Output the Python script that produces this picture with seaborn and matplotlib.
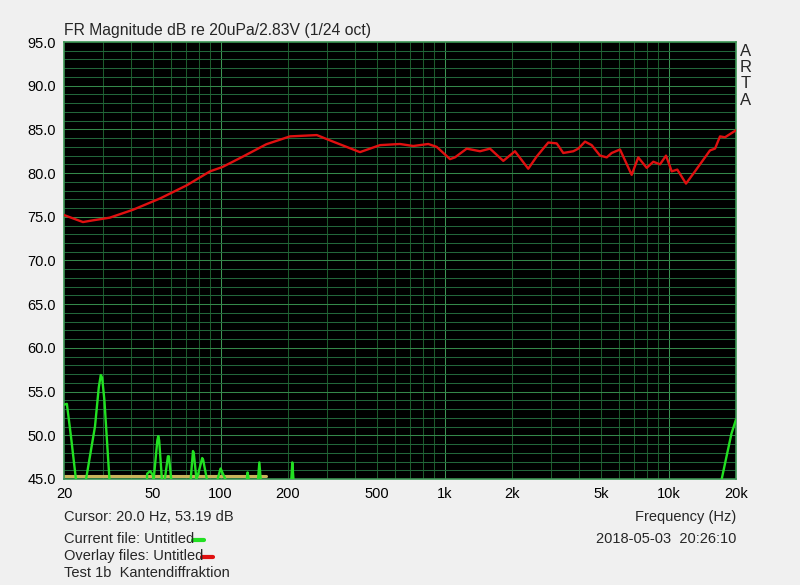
import numpy as np
import pandas as pd
import matplotlib
matplotlib.use("Agg")
import matplotlib.pyplot as plt
from matplotlib.lines import Line2D
from matplotlib.ticker import FixedLocator, NullFormatter
import seaborn as sns

sns.set_style("dark")
plt.rcParams["font.family"] = ["Liberation Sans", "DejaVu Sans"]

# ---- data ----
red_freq = [20, 24.3, 27, 32, 40.6, 53.7, 70.6, 89.7, 102, 126, 160, 204, 269, 318,
            419, 515, 632, 725, 846, 922, 1058, 1113, 1256, 1439, 1595, 1829,
            2062, 2364, 2578, 2904, 3167, 3388, 3756, 3954, 4236, 4538, 4943,
            5296, 5574, 6070, 6844, 7322, 7986, 8548, 9157, 9740, 10328, 10940,
            11962, 13122, 15310, 16120, 16970, 17864, 20000]
red_db = [75.2, 74.4, 74.6, 74.9, 75.8, 77.1, 78.6, 80.2, 80.7, 81.9, 83.3, 84.2,
          84.35, 83.6, 82.4, 83.2, 83.33, 83.1, 83.33, 83.0, 81.6, 81.8, 82.8,
          82.5, 82.8, 81.4, 82.5, 80.5, 81.9, 83.5, 83.4, 82.3, 82.5, 82.8, 83.6,
          83.2, 82.0, 81.8, 82.3, 82.7, 79.8, 81.8, 80.6, 81.3, 81.0, 82.0, 80.2,
          80.4, 78.8, 80.2, 82.6, 82.8, 84.2, 84.1, 84.9]

# green trace, values under 45 are off the bottom of the plot
green_freq = [20, 20.6, 21.5, 22.6, 23.5, 25.1, 27.5, 28.6, 29.2, 29.6, 30.3, 31.9, 33,
              46.5, 47, 48.5, 50, 50.3, 52.2, 52.7, 53.2, 54.7, 55.5, 56.4, 58.2, 58.8, 60.2, 62,
              73, 73.6, 75.3, 75.9, 78, 79.3, 82.8, 83.6, 86.8, 88,
              96, 97, 100, 105, 106, 130, 131, 132, 133.5, 134,
              146, 147, 149, 151, 152, 206, 207, 209, 211.5, 212,
              17000, 17270, 18150, 19090, 20000]
green_db = [53.5, 53.6, 49.8, 45.0, 40, 45.0, 51.0, 55.5, 56.9, 56.6, 54.0, 45.0, 40,
            40, 45.6, 45.9, 45.4, 45.0, 49.4, 49.9, 49.4, 45.0, 40, 45.0, 47.6, 47.6, 45.0, 40,
            40, 45.0, 48.2, 48.0, 45.0, 45.5, 47.4, 47.2, 45.0, 40,
            40, 45.0, 46.2, 45.0, 40, 40, 45.0, 45.75, 45.0, 40,
            40, 45.0, 46.9, 45.0, 40, 40, 45.0, 46.9, 45.0, 40,
            40, 45.0, 47.6, 50.2, 51.8]

floor_freq = [20, 159]
floor_db = [45.3, 45.3]

x_tick_vals = [20, 50, 100, 200, 500, 1000, 2000, 5000, 10000, 20000]
x_tick_labels = ["20", "50", "100", "200", "500", "1k", "2k", "5k", "10k", "20k"]
y_tick_vals = [95, 90, 85, 80, 75, 70, 65, 60, 55, 50, 45]

red_df = pd.DataFrame({"freq": red_freq, "db": red_db})
green_df = pd.DataFrame({"freq": green_freq, "db": green_db})
floor_df = pd.DataFrame({"freq": floor_freq, "db": floor_db})

bg = "#f0f0f0"
fig = plt.figure(figsize=(8, 5.85), dpi=100, facecolor=bg)
ax = fig.add_axes([64 / 800, (585 - 479) / 585, 672 / 800, 437 / 585])
ax.set_facecolor("black")
ax.set_xscale("log")
ax.set_xlim(20, 20000)
ax.set_ylim(45, 95)

# grid
minor_x = [m * 10 ** d for d in range(1, 5) for m in range(2, 10)
           if 20 < m * 10 ** d < 10000]
for xv in minor_x:
    ax.axvline(xv, color="#1c5a2c", lw=0.75, zorder=1)
for xv in [100, 1000, 10000]:
    ax.axvline(xv, color="#3c9454", lw=0.75, zorder=1)
for yv in range(46, 95):
    col = "#34884a" if yv % 5 == 0 else "#22663a"
    ax.axhline(yv, color=col, lw=0.75, zorder=1)

sns.lineplot(data=floor_df, x="freq", y="db", ax=ax, color="#c8b45a", lw=2.2,
             sort=False, estimator=None, zorder=2)
sns.lineplot(data=green_df, x="freq", y="db", ax=ax, color="#22e022", lw=1.7,
             sort=False, estimator=None, zorder=3)
sns.lineplot(data=red_df, x="freq", y="db", ax=ax, color="#e01010", lw=1.7,
             sort=False, estimator=None, zorder=4)

for s in ax.spines.values():
    s.set_color("#3c9454")
    s.set_linewidth(1.2)

ax.xaxis.set_major_locator(FixedLocator(x_tick_vals))
ax.set_xticklabels(x_tick_labels)
ax.xaxis.set_minor_formatter(NullFormatter())
ax.xaxis.set_minor_locator(FixedLocator([]))
ax.set_yticks(y_tick_vals)
ax.set_yticklabels([f"{v:.1f}" for v in y_tick_vals])
ax.tick_params(axis="both", length=0, labelsize=10.5, colors="black")
ax.tick_params(axis="x", pad=6)
ax.tick_params(axis="y", pad=6)
ax.set_xlabel("")
ax.set_ylabel("")

fs = 10.5
fig.text(64 / 800, 1 - 30 / 585, "FR Magnitude dB re 20uPa/2.83V (1/24 oct)",
         fontsize=11.3, va="center", ha="left")
for i, ch in enumerate("ARTA"):
    fig.text(746 / 800, 1 - (52 + i * 16) / 585, ch, fontsize=12,
             ha="center", va="center")

fig.text(64 / 800, 1 - 517 / 585, "Cursor: 20.0 Hz, 53.19 dB", fontsize=fs, va="center")
fig.text(64 / 800, 1 - 539 / 585, "Current file: Untitled", fontsize=fs, va="center")
fig.text(64 / 800, 1 - 556 / 585, "Overlay files: Untitled", fontsize=fs, va="center")
fig.text(64 / 800, 1 - 573 / 585, "Test 1b  Kantendiffraktion", fontsize=fs, va="center")
fig.text(736 / 800, 1 - 517 / 585, "Frequency (Hz)", fontsize=fs, va="center", ha="right")
fig.text(736 / 800, 1 - 539 / 585, "2018-05-03  20:26:10", fontsize=fs, va="center", ha="right")

fig.add_artist(Line2D([193 / 800, 204 / 800], [1 - 540 / 585] * 2, color="#22e022",
                      lw=3, transform=fig.transFigure))
fig.add_artist(Line2D([202 / 800, 213 / 800], [1 - 557 / 585] * 2, color="#e01010",
                      lw=3, transform=fig.transFigure))

fig.savefig("out.png", dpi=100, facecolor=bg)
